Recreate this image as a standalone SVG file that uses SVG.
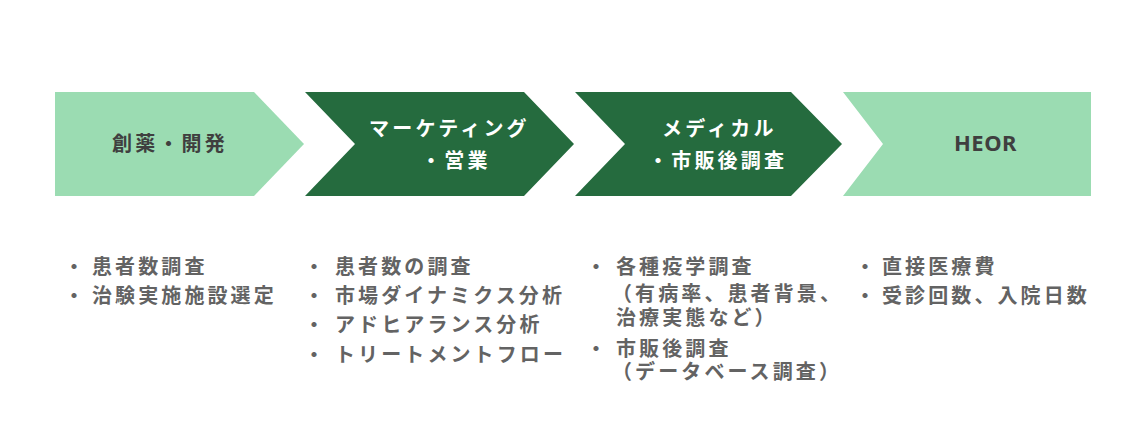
<svg xmlns="http://www.w3.org/2000/svg" width="1145" height="435" viewBox="0 0 1145 435">
<style>
.light{fill:#9bdcb2}
.dark{fill:#256b3e}
.t{font-family:"Noto Sans CJK JP","Noto Sans",sans-serif;font-weight:700;font-size:20px;letter-spacing:3.1px}
.h{letter-spacing:3.2px}
.tl{fill:#3f3f3f}
.tw{fill:#ffffff}
.li{fill:#636363}
.en{font-family:"Noto Sans","Noto Sans CJK JP",sans-serif;font-weight:700;font-size:22px;letter-spacing:0.5px}
</style>
<rect width="1145" height="435" fill="#ffffff"/>
<g id="node-1">
<polygon class="light" points="55,92 254,92 304,144 254,196 55,196"/>
<text class="t h tl" x="112" y="151">創薬・開発</text>
</g>
<g id="node-2">
<polygon class="dark" points="305,92 524,92 574,144 524,196 305,196 355,144"/>
<text class="t h tw" x="369" y="136">マーケティング</text>
<text class="t h tw" x="421" y="167.5">・営業</text>
</g>
<g id="node-3">
<polygon class="dark" points="575,92 791,92 842,144 791,196 575,196 625,144"/>
<text class="t h tw" x="662" y="136">メディカル</text>
<text class="t h tw" x="648" y="167.5">・市販後調査</text>
</g>
<g id="node-4">
<polygon class="light" points="843,92 1091,92 1091,196 843,196 883,144"/>
<text class="en tl" x="954" y="151">HEOR</text>
</g>
<g id="connectors"></g>
<g id="list-1">
<text class="t li" x="64" y="273.5">・</text>
<text class="t li" x="92" y="273.5">患者数調査</text>
<text class="t li" x="64" y="302.5">・</text>
<text class="t li" x="92" y="302.5">治験実施施設選定</text>
</g>
<g id="list-2">
<text class="t li" x="304" y="273.5">・</text>
<text class="t li" x="335" y="273.5">患者数の調査</text>
<text class="t li" x="304" y="302.5">・</text>
<text class="t li" x="335" y="302.5">市場ダイナミクス分析</text>
<text class="t li" x="304" y="332">・</text>
<text class="t li" x="335" y="332">アドヒアランス分析</text>
<text class="t li" x="304" y="361.5">・</text>
<text class="t li" x="335" y="361.5">トリートメントフロー</text>
</g>
<g id="list-3">
<text class="t li" x="586" y="273.5">・</text>
<text class="t li" x="616" y="273.5">各種疫学調査</text>
<text class="t li" x="612" y="300.5">（有病率、患者背景、</text>
<text class="t li" x="616" y="324.5">治療実態など）</text>
<text class="t li" x="586" y="355.5">・</text>
<text class="t li" x="616" y="355.5">市販後調査</text>
<text class="t li" x="612" y="378.5">（データベース調査）</text>
</g>
<g id="list-4">
<text class="t li" x="855" y="273.5">・</text>
<text class="t li" x="882" y="273.5">直接医療費</text>
<text class="t li" x="855" y="302.5">・</text>
<text class="t li" x="882" y="302.5">受診回数、入院日数</text>
</g>
</svg>
